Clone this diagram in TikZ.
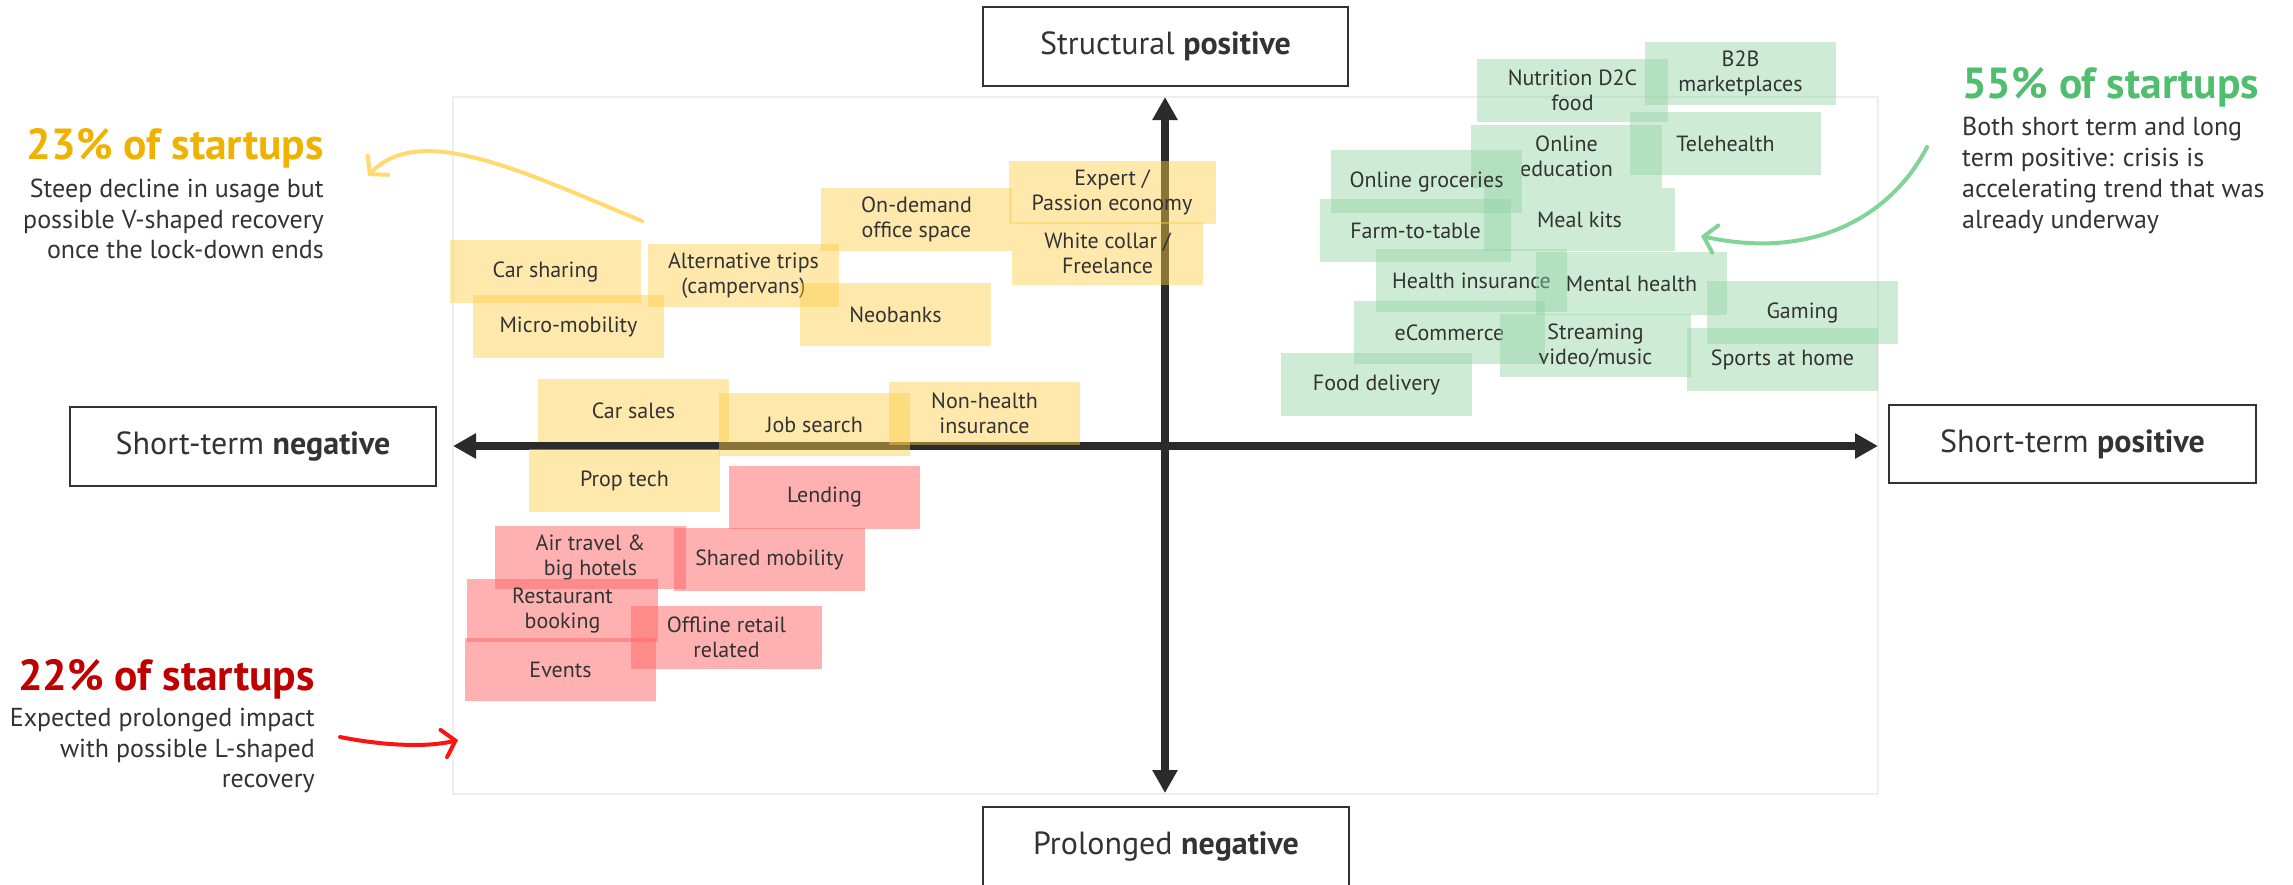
\documentclass[tikz,border=0pt]{standalone}
\usepackage{fontspec}
\setmainfont{PT Sans}
\usetikzlibrary{arrows.meta}
\definecolor{ink}{RGB}{51,51,51}
\definecolor{axisc}{RGB}{43,43,43}
\definecolor{yel}{RGB}{252,205,70}
\definecolor{grn}{RGB}{146,211,162}
\definecolor{rd}{RGB}{255,100,100}
\definecolor{hy}{RGB}{240,178,0}
\definecolor{hred}{RGB}{192,0,0}
\definecolor{hg}{RGB}{80,190,110}
\definecolor{ay}{RGB}{255,218,110}
\definecolor{ag}{RGB}{130,212,150}
\definecolor{ar}{RGB}{250,20,20}
\definecolor{framec}{RGB}{238,238,238}
\begin{document}
\begin{tikzpicture}[x=1pt,y=-1pt,
 cell/.style={minimum width=191pt,minimum height=63pt,inner sep=0pt,align=center,text=ink,font=\fontsize{22}{25}\selectfont,fill opacity=0.45,text opacity=1},
 cy/.style={cell,fill=yel},
 cg/.style={cell,fill=grn},
 cr/.style={cell,fill=rd,fill opacity=0.5},
 axbox/.style={draw=ink,line width=1.5pt,fill=white,minimum width=366pt,minimum height=79pt,inner sep=0pt,text=ink,font=\fontsize{32}{36}\selectfont},
 axisline/.style={draw=axisc,line width=8pt,{Triangle[length=23pt,width=24pt]}-{Triangle[length=23pt,width=24pt]}},
 head/.style={inner sep=0pt,font=\fontsize{43.5}{47}\selectfont\bfseries},
 body/.style={inner sep=0pt,text=ink,font=\fontsize{26}{31}\selectfont},
 annot/.style={line width=4pt,line cap=round,-{Straight Barb[length=12pt,width=28pt,line cap=round]}}
]
\useasboundingbox (0,0) rectangle (2293,884);
% plot frame
\draw[framec,line width=2pt] (453,96.5) rectangle (1878,794);
% axes
\coordinate (vt) at (1165,97);
\coordinate (vb) at (1165,793);
\coordinate (hl) at (453,446);
\coordinate (hr) at (1878,446);
\draw[axisline] (vb) -- (vt);
\draw[axisline] (hl) -- (hr);
% axis labels
\node[axbox,minimum width=365pt] (sp) at (1165.5,46.5) {Structural \textbf{positive}};
\node[axbox] (pn) at (1166,846.5) {Prolonged \textbf{negative}};
\node[axbox] (sn) at (253,446.5) {Short-term \textbf{negative}};
\node[axbox,minimum width=367pt,minimum height=78pt] (stp) at (2072.5,444) {Short-term \textbf{positive}};
% yellow cells
\node[cy] (carsharing) at (545.5,271.5) {Car sharing};
\node[cy] (micro) at (568.5,326.5) {Micro-mobility};
\node[cy] (alttrips) at (743.5,275.5) {Alternative trips\\(campervans)};
\node[cy] (ondemand) at (916.5,219.5) {On-demand\\office space};
\node[cy] (neobanks) at (895.5,314.5) {Neobanks};
\node[cy,minimum width=207pt] (expert) at (1112,192) {Expert /\\Passion economy};
\node[cy] (whitecollar) at (1107.5,253.5) {White collar /\\Freelance};
\node[cy] (carsales) at (633.5,410.5) {Car sales};
\node[cy] (jobsearch) at (814.5,424.5) {Job search};
\node[cy] (nonhealth) at (984.5,413.5) {Non-health\\insurance};
\node[cy] (proptech) at (624.5,480.5) {Prop tech};
% red cells
\node[cr] (lending) at (824.5,497.5) {Lending};
\node[cr] (airtravel) at (590.5,557.5) {Air travel \&\\big hotels};
\node[cr] (sharedmob) at (769.5,559.5) {Shared mobility};
\node[cr] (restaurant) at (562.5,610.5) {Restaurant\\booking};
\node[cr] (offline) at (726.5,637.5) {Offline retail\\related};
\node[cr] (events) at (560.5,669.5) {Events};
% green cells
\node[cg] (nutrition) at (1572.5,90.5) {Nutrition D2C\\food};
\node[cg] (b2b) at (1740.5,73.5) {B2B\\marketplaces};
\node[cg] (onlineedu) at (1566.5,156.5) {Online\\education};
\node[cg] (telehealth) at (1725.5,143.5) {Telehealth};
\node[cg] (groceries) at (1426.5,181.5) {Online groceries};
\node[cg] (farm) at (1415.5,230.5) {Farm-to-table};
\node[cg] (mealkits) at (1579.5,219.5) {Meal kits};
\node[cg] (healthins) at (1471.5,280.5) {Health insurance};
\node[cg] (mental) at (1631.5,283.5) {Mental health};
\node[cg] (gaming) at (1802.5,312.5) {Gaming};
\node[cg] (ecommerce) at (1449.5,332.5) {eCommerce};
\node[cg] (streaming) at (1595.5,345.5) {Streaming\\video/music};
\node[cg] (sports) at (1782.5,359.5) {Sports at home};
\node[cg] (fooddel) at (1376.5,384.5) {Food delivery};
% annotation 23%
\node[head,text=hy,anchor=base east] (h23) at (324,159) {23\% of startups};
\node[body,anchor=base east] (b23a) at (324,197) {Steep decline in usage but};
\node[body,anchor=base east] (b23b) at (324,228) {possible V-shaped recovery};
\node[body,anchor=base east] (b23c) at (324,258) {once the lock-down ends};
% annotation 22%
\node[head,text=hred,anchor=base east] (h22) at (315,690) {22\% of startups};
\node[body,anchor=base east] (b22a) at (315,726) {Expected prolonged impact};
\node[body,anchor=base east] (b22b) at (315,757) {with possible L-shaped};
\node[body,anchor=base east] (b22c) at (315,787) {recovery};
% annotation 55%
\node[head,text=hg,anchor=base west] (h55) at (1962,98) {55\% of startups};
\node[body,anchor=base west] (b55a) at (1962,135) {Both short term and long};
\node[body,anchor=base west] (b55b) at (1962,166) {term positive: crisis is};
\node[body,anchor=base west] (b55c) at (1962,197) {accelerating trend that was};
\node[body,anchor=base west] (b55d) at (1962,228) {already underway};
% annotation arrows
\coordinate (ys) at (642,221);
\coordinate (ye) at (368,176);
\draw[annot,ay] (ys) .. controls (530,175) and (420,120) .. (ye);
\coordinate (gs) at (1927,147);
\coordinate (ge) at (1701,236);
\draw[annot,ag] (gs) .. controls (1895,210) and (1820,262) .. (ge);
\coordinate (rs) at (340,737);
\coordinate (re) at (458,740);
\draw[annot,ar] (rs) .. controls (380,745) and (425,748) .. (re);
\end{tikzpicture}
\end{document}
